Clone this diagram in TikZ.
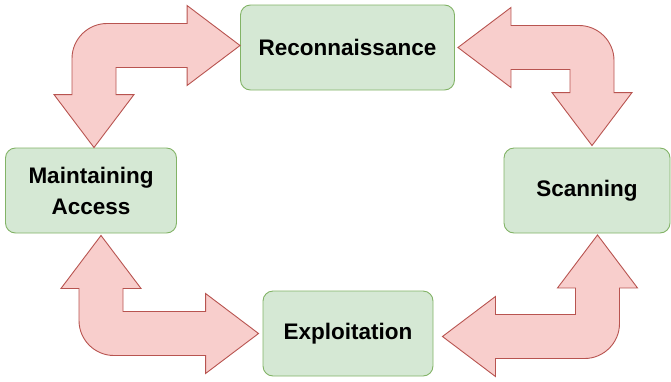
\documentclass[tikz,border=0pt]{standalone}
\usepackage[dvipsnames]{xcolor}
\usepackage{fontspec}
\setmainfont{Liberation Sans}
\usetikzlibrary{positioning,calc}

\definecolor{boxfill}{HTML}{D5E8D4}
\definecolor{boxline}{HTML}{82B366}
\definecolor{arrowfill}{HTML}{F8CECC}
\definecolor{arrowline}{HTML}{B85450}

\begin{document}
\begin{tikzpicture}[x=1pt,y=1pt,node distance=143pt,
    main node/.style={rectangle,rounded corners=10pt,draw=boxline,fill=boxfill,line width=0.9pt,minimum height=85pt,inner sep=0pt,align=center,font=\bfseries\fontsize{22.5}{31}\selectfont},
    big arrow/.style={draw=arrowline,fill=arrowfill,line width=0.9pt,
        to path={let \p1=(\tikztostart), \p2=(\tikztotarget), \n1={sign(\x1-\x2)}, \n2={sign(\y2-\y1)} in
            (\x2+\n1*22pt, \y1+\n2*22pt) -- (\x1-\n1*53pt, \y1+\n2*22pt) -- (\x1-\n1*53pt, \y1+\n2*40pt) -- (\x1, \y1)
            -- (\x1-\n1*53pt, \y1-\n2*40pt) -- (\x1-\n1*53pt, \y1-\n2*22pt) -- (\x2+\n1*13pt, \y1-\n2*22pt)
            .. controls (\x2-\n1*6.3pt, \y1-\n2*22pt) and (\x2-\n1*22pt, \y1-\n2*6.3pt) .. (\x2-\n1*22pt, \y1+\n2*13pt)
            -- (\x2-\n1*22pt, \y2-\n2*53pt) -- (\x2-\n1*40pt, \y2-\n2*53pt) -- (\x2, \y2)
            -- (\x2+\n1*40pt, \y2-\n2*53pt) -- (\x2+\n1*22pt, \y2-\n2*53pt) -- cycle}}]
                \useasboundingbox (0,0) rectangle (671,-381);

                \node [main node, minimum width=214](1) at (347.5,-47.5) {Reconnaissance};
                \node [main node, minimum width=171](2) [below of=1, xshift=-256.5]{Maintaining\\Access};
                \node [main node, minimum width=166](3) [below of=1, xshift=239.5]{Scanning};
                \node [main node, minimum width=170](4) [below of=2, xshift=257]{Exploitation};

                \path
                    ([yshift=2]1.west) edge[big arrow] ([xshift=3]2.north)
                    ([xshift=3]1.east) edge[big arrow] ([xshift=5, yshift=2]3.north)
                    ([xshift=-4]4.west) edge[big arrow] ([xshift=10, yshift=-2]2.south)
                    ([xshift=9, yshift=-3]4.east) edge[big arrow] ([xshift=10.5, yshift=-1.5]3.south)
                    ;
\end{tikzpicture}
\end{document}
